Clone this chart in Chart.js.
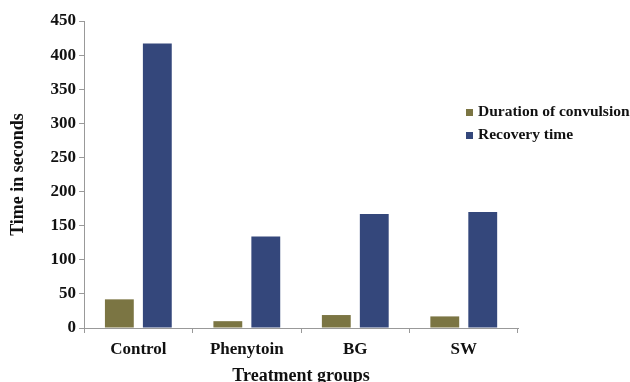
<!DOCTYPE html>
<html>
<head>
<meta charset="utf-8">
<script src="https://cdn.jsdelivr.net/npm/chart.js@4.4.0/dist/chart.umd.min.js"></script>
<style>
    html, body {margin: 0; padding: 0; background: #fff;}
    #wrap {width: 630px; height: 382px; position: relative;}
</style>
</head>
<body>
<div id="wrap"><canvas id="chart"></canvas></div>
<script>
const groups = ['Control', 'Phenytoin', 'BG', 'SW']
const durationOfConvulsion = [42, 10, 19, 17]
const recoveryTime = [417, 134, 167, 170]
const yTicks = [0, 50, 100, 150, 200, 250, 300, 350, 400, 450]

const serif = '"Liberation Serif", "Times New Roman", serif'

// legend sits inside the plot on the right, so it is drawn by hand
const sideLegend = {
    id: 'sideLegend',
    afterDraw(chart) {
        const ctx = chart.ctx
        ctx.save()
        ctx.font = 'bold 15.5px ' + serif
        ctx.textBaseline = 'middle'
        chart.data.datasets.forEach((ds, i) => {
            const y = 112 + i * 23
            ctx.fillStyle = ds.backgroundColor
            ctx.fillRect(466, y - 3, 7, 7)
            ctx.fillStyle = '#111'
            ctx.fillText(ds.label, 478, y)
        })
        ctx.restore()
    }
}

new Chart(document.getElementById('chart'), {
    type: 'bar',
    data: {
        labels: groups,
        datasets: [{
            label: 'Duration of convulsion',
            data: durationOfConvulsion,
            backgroundColor: '#7b7543'
        }, {
            label: 'Recovery time',
            data: recoveryTime,
            backgroundColor: '#34477b'
        }]
    },
    options: {
        responsive: true,
        maintainAspectRatio: false,
        animation: false,
        categoryPercentage: 0.7,
        barPercentage: 0.76,
        layout: {padding: {top: 21, right: 112, bottom: -5, left: 8}},
        plugins: {
            legend: {display: false},
            tooltip: {enabled: false}
        },
        scales: {
            x: {
                grid: {display: true, drawOnChartArea: false, drawTicks: true, tickLength: 5, color: '#999'},
                border: {color: '#999'},
                ticks: {color: '#111', font: {family: serif, size: 17, weight: 'bold'}, padding: 6},
                title: {
                    display: true,
                    text: 'Treatment groups',
                    color: '#111',
                    font: {family: serif, size: 18, weight: 'bold'},
                    padding: {top: 0, bottom: 0}
                }
            },
            y: {
                min: 0,
                max: 450,
                afterBuildTicks: (axis) => { axis.ticks = yTicks.map(v => ({value: v})) },
                grid: {display: true, drawOnChartArea: false, drawTicks: true, tickLength: 5, color: '#999'},
                border: {color: '#999'},
                ticks: {color: '#111', font: {family: serif, size: 17, weight: 'bold'}, padding: 3},
                title: {
                    display: true,
                    text: 'Time in seconds',
                    color: '#111',
                    font: {family: serif, size: 18, weight: 'bold'},
                    padding: {top: 0, bottom: 18}
                }
            }
        }
    },
    plugins: [sideLegend]
})
</script>
</body>
</html>
